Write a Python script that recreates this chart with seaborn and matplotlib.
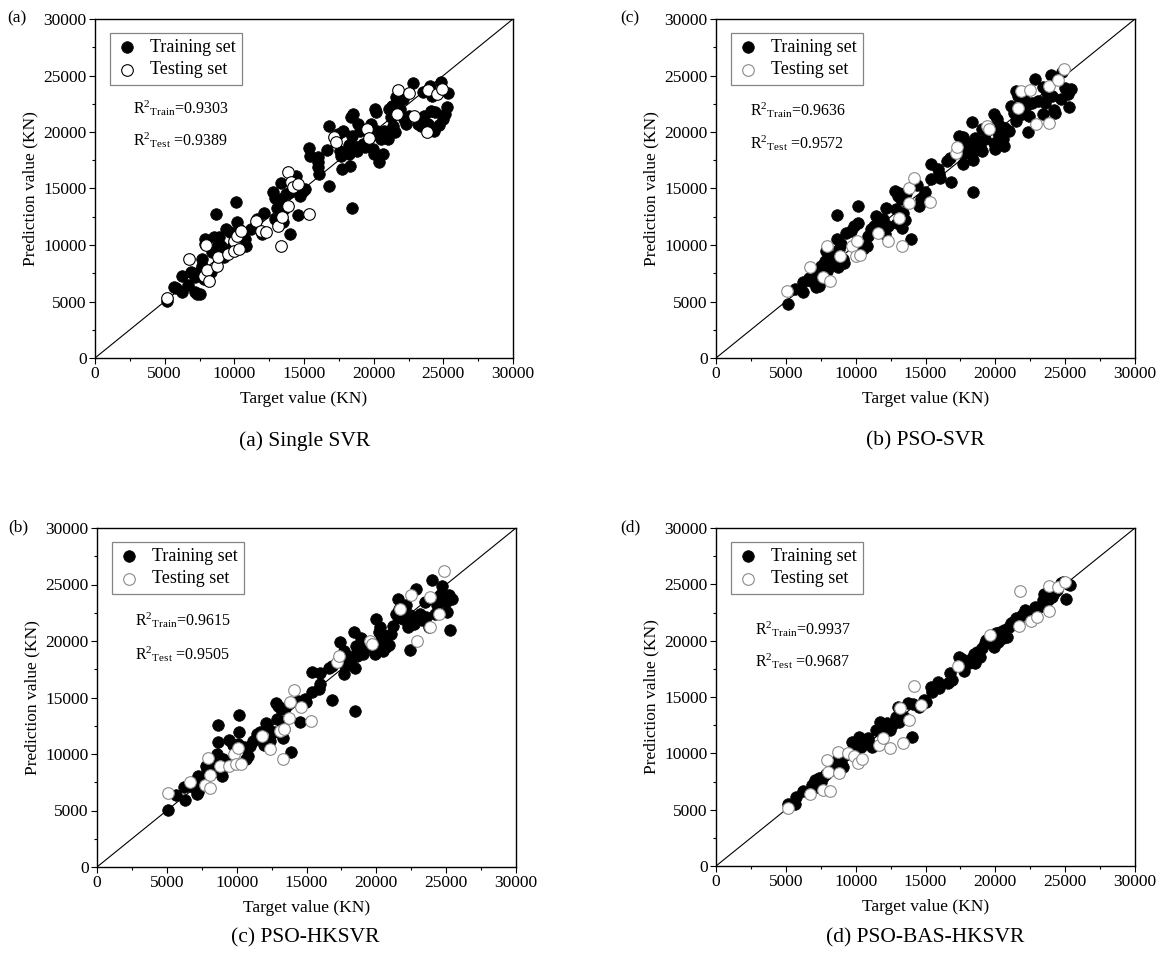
import numpy as np
import pandas as pd
import matplotlib
matplotlib.use("Agg")
import matplotlib.pyplot as plt
from matplotlib.ticker import MultipleLocator
import seaborn as sns

# ---------------- data (target, prediction) ----------------
a_train = [(5195,5074),(5660,6250),(5780,6160),(6270,5810),(6270,7230),(6710,6490),(6880,7580),
 (7200,5810),(7320,5660),(7510,5660),(7200,7140),(7440,7580),(7680,8170),(7680,8760),(7800,6990),
 (7880,10530),(7880,10090),(8290,7580),(8420,9350),(8540,10680),(8660,12740),(8780,9790),(8900,10680),
 (9020,9940),(9150,9350),(9270,8910),(9390,11420),(9680,11120),(9830,9790),(10120,13840),(10170,12010),
 (10320,11420),(10610,10680),(10850,9940),(10800,10530),(11220,11420),(11630,12300),(12120,12830),
 (12020,10970),(12800,14660),(12930,14130),(12950,12300),(13050,13250),(13170,13780),(13340,15460),
 (13370,14070),(13490,12070),(13590,13190),(13730,14510),(13980,10970),(13980,14660),(14460,16140),
 (14590,12650),(14680,14370),(14950,14750),(15050,14960),(15390,18590),(15440,17850),(15980,17760),
 (16030,17320),(16030,16870),(16100,16280),(16630,18440),(16830,20560),(16830,15250),(17440,19820),
 (17560,18350),(17680,17910),(17760,16730),(17800,20120),(18220,18850),(18250,18050),(18290,17020),
 (18340,21300),(18410,13250),(18410,19680),(18540,21590),(18610,18790),(18780,18350),(18900,20710),
 (19020,20120),(19200,18940),(19390,18640),(19830,20710),(19930,18500),(20000,18050),(20070,22040),
 (20190,21740),(20240,20120),(20370,19680),(20410,17320),(20540,19380),(20660,18050),(20730,20120),
 (21050,19380),(21100,22040),(21220,21300),(21340,22330),(21410,20560),(21540,19970),(21590,23070),
 (21710,22630),(21880,22040),(22070,22920),(22200,21150),(22320,20710),(22560,21440),(22850,24340),
 (23170,20710),(23410,20560),(23540,23510),(23590,21440),(23710,20410),(23900,20710),(24020,24100),
 (24100,21890),(24220,23160),(24320,20120),(24390,21740),(24710,20620),(24810,24400),(25000,21150),
 (25120,21590),(25240,22180),(25370,23420)]
a_test = [(5170,5280),(6780,8730),(7800,7290),(8050,7820),(8170,6840),(8000,10000),(8780,8170),
 (8850,8910),(9510,9200),(10000,10380),(10000,9500),(10200,10830),(10370,9650),(10490,11210),
 (11590,12150),(11900,11270),(12270,11120),(13100,11710),(13370,9880),(13410,12450),(13830,16430),
 (13850,13480),(14100,15610),(14200,15100),(14560,15400),(15370,12740),(17150,19530),(17320,19090),
 (19510,20270),(19680,19440),(21760,23750),(21660,21590),(22520,23420),(22930,21440),(23850,19970),
 (23900,23750),(24510,23360),(24900,23810)]

b_train = [(5150,4770),(5680,6150),(6250,6740),(6250,5800),(6670,7120),(6800,6830),(7170,6240),
 (7380,6390),(7300,7420),(7510,8160),(7770,8600),(7850,9480),(7980,7710),(8160,8160),(8290,8740),
 (8420,8450),(8550,9040),(8630,12630),(8690,10510),(8760,8010),(8820,9630),(8950,10070),(9080,8740),
 (9180,8450),(9340,11100),(9650,11250),(9860,11690),(10180,11920),(10200,13450),(10520,9630),
 (10780,9920),(10860,10800),(11120,11390),(11300,11690),(11480,12570),(11820,11920),(11960,12280),
 (12090,10950),(12160,13310),(12350,11690),(12790,14780),(12870,13160),(12950,11980),(13000,14340),
 (13130,14630),(13260,14040),(13340,11540),(13390,12870),(13520,12220),(13580,14630),(13970,10510),
 (14390,15280),(14570,13450),(14700,14040),(14960,14690),(15360,17130),(15410,15810),(15930,16690),
 (15990,16250),(16040,15960),(16530,17430),(16740,17720),(16790,15570),(17370,19640),(17660,19580),
 (17710,17190),(17710,18080),(17920,18610),(17970,19050),(18180,18160),(18360,20870),(18410,14690),
 (18410,17520),(18490,18310),(18540,19490),(18650,19050),(18880,18750),(19070,18310),(19010,20230),
 (19230,19400),(19880,21550),(19930,19050),(20010,18460),(20120,21110),(20200,19930),(20330,20520),
 (20540,19340),(20640,18750),(20720,20370),(20980,20080),(21110,22290),(21320,21640),(21450,23610),
 (21510,20960),(21630,23230),(21900,21550),(22030,22880),(22160,22290),(22340,19990),(22420,21400),
 (22600,22580),(22810,24700),(23070,22730),(23390,21550),(23420,23990),(23540,22580),(23730,23460),
 (23990,25080),(24040,23170),(24200,21990),(24300,21700),(24690,22880),(24770,25290),(24980,23900),
 (25170,23400),(25300,22230),(25430,23820)]
b_test = [(5100,5890),(6720,8010),(7640,7210),(7980,9920),(8160,6830),(8870,9040),(9730,9920),
 (9990,9040),(10070,10360),(10330,9100),(11620,11100),(12350,10360),(13080,12420),(13340,9920),
 (13790,15070),(13790,13750),(14150,15960),(15300,13810),(17190,18110),(17260,18660),(19410,20520),
 (19540,20230),(21630,22140),(21840,23610),(22500,23700),(22940,20670),(23860,20810),(23810,24110),
 (24460,24640),(24900,25580)]

c_train = [(5110,5050),(5660,6380),(6270,5940),(6200,7120),(6890,7120),(7130,6440),(7200,6650),
 (7380,7540),(7250,8070),(7620,7920),(7800,8960),(7870,8660),(8290,8370),(8430,9250),(8560,9990),
 (8630,11030),(8660,12560),(8730,9610),(8850,8510),(8930,8070),(9020,9550),(9170,9250),(9420,11260),
 (9710,10790),(10130,10880),(10200,11970),(10200,13450),(10500,10580),(10700,9550),(10820,9840),
 (10940,10730),(11190,11170),(11480,11760),(11680,11910),(11930,10790),(12120,12740),(12170,12500),
 (12420,11170),(12660,11910),(12790,14510),(12910,13090),(12960,14280),(13030,11910),(13160,13980),
 (13280,12860),(13350,11380),(13400,12210),(13480,14040),(13890,10140),(14390,14720),(14510,12860),
 (14880,14870),(14990,14570),(15370,17290),(15420,15520),(15860,15760),(15980,16200),(15980,17200),
 (16600,17590),(16790,17820),(16790,14750),(17390,19950),(17710,17090),(17710,19150),(17780,17820),
 (18120,18270),(18320,18710),(18400,20840),(18450,13780),(18450,17590),(18520,19600),(18610,18710),
 (18810,19150),(18930,20250),(19060,18860),(19180,19600),(19350,19450),(19920,18860),(19990,21960),
 (20090,19600),(20160,20780),(20240,21220),(20340,20190),(20480,19150),(20530,20490),(20660,19450),
 (20900,19660),(21020,20630),(21200,21370),(21390,22410),(21520,22110),(21520,23740),(21640,22850),
 (21890,21960),(22130,23150),(22300,21220),(22380,19210),(22420,22260),(22670,21520),(22820,24620),
 (23120,22410),(23290,21820),(23480,23440),(23560,22110),(23780,21220),(24020,25360),(24050,23740),
 (24220,22410),(24340,23150),(24590,24030),(24710,24860),(24960,23440),(25080,22560),(25210,24030),
 (25280,20930),(25400,23740)]
c_test = [(5110,6530),(6690,7540),(7700,7270),(7940,9610),(8070,8160),(8110,6950),(8780,8960),
 (9470,8960),(9840,9990),(9960,9100),(10130,10490),(10330,9100),(11800,11560),(12370,10430),
 (13110,12000),(13330,9550),(13400,12240),(13770,13180),(13820,14630),(14140,15700),(14630,14130),
 (15300,12950),(17160,18120),(17330,18710),(19550,20040),(19670,19750),(21690,22850),(22500,24030),
 (22940,20040),(23850,21220),(23850,23890),(24470,22410),(24840,26160)]

d_train = [(5150,5480),(5680,5480),(5730,6140),(6250,6670),(6850,7170),(7120,7620),(7250,7020),
 (7380,7770),(7510,7470),(7690,7910),(7900,8210),(8240,8510),(8350,8800),(8500,9100),(8690,9400),
 (8950,9250),(9080,8800),(9210,9840),(9730,11030),(9860,10430),(10070,10730),(10250,11410),
 (10390,10520),(10700,11030),(10860,11320),(10990,10880),(11170,10580),(11480,12060),(11770,12800),
 (12090,12210),(12220,12660),(12430,12060),(12610,12510),(12870,13250),(13050,14140),(13130,12800),
 (13470,13250),(13730,14440),(14050,11470),(14100,14380),(14570,14140),(14880,14730),(15040,14580),
 (15410,15920),(15490,15470),(15930,16360),(15990,15770),(16610,16270),(16740,17100),(16930,16510),
 (17400,18580),(17580,18350),(17760,17340),(17920,18140),(18100,17990),(18280,18350),(18440,18820),
 (18550,18050),(18700,19020),(18880,18580),(19070,19330),(19230,19770),(19330,20070),(19750,20210),
 (19930,19470),(20060,20660),(20200,19920),(20330,20800),(20540,20210),(20640,20950),(20850,20360),
 (20980,21250),(21110,21550),(21240,21700),(21510,21990),(21630,21610),(21900,22290),(22100,22730),
 (22290,22500),(22810,22970),(23150,23030),(23390,23620),(23470,24160),(23780,23620),(24040,23920),
 (24200,24220),(24380,24510),(24720,25100),(24820,25250),(25030,23680),(25170,25040),(25350,24960)]
d_test = [(5150,5190),(6720,6430),(7690,6730),(7980,9400),(8030,8360),(8160,6670),(8760,10140),
 (8820,8270),(9470,9990),(9860,9750),(10180,9160),(10440,9540),(11640,10730),(11960,11320),
 (12430,10430),(13210,13990),(13390,10880),(13840,12950),(14180,15980),(14700,14290),(17320,17750),
 (19620,20510),(21710,21310),(21760,24450),(22550,21780),(22990,22140),(23860,22590),(23860,24810),
 (24510,24750),(24980,25250)]

r2_train = ["0.9303", "0.9636", "0.9615", "0.9937"]
r2_test = ["0.9389", "0.9572", "0.9505", "0.9687"]
panel_tags = ["(a)", "(c)", "(b)", "(d)"]
captions = ["(a) Single SVR", "(b) PSO-SVR", "(c) PSO-HKSVR", "(d) PSO-BAS-HKSVR"]
train_sets = [a_train, b_train, c_train, d_train]
test_sets = [a_test, b_test, c_test, d_test]
test_edges = ["black", "#8a8a8a", "#8a8a8a", "#8a8a8a"]

# ---------------- style ----------------
sns.set_style("ticks")
plt.rcParams["font.family"] = ["Liberation Serif", "DejaVu Serif"]
plt.rcParams["mathtext.fontset"] = "custom"
plt.rcParams["mathtext.rm"] = "Liberation Serif"
plt.rcParams["mathtext.it"] = "Liberation Serif:italic"
for key in ["text.color", "axes.labelcolor", "xtick.color", "ytick.color", "axes.edgecolor"]:
    plt.rcParams[key] = "black"

W, H = 1168, 965
fig = plt.figure(figsize=(W / 100, H / 100), dpi=100)

# pixel boxes: left, top, right, bottom
boxes = [(95, 19, 513, 358), (716, 19, 1135, 358), (97, 528, 516, 867), (716, 528, 1135, 866)]
r2_pos = [(0.091, 0.737, 0.643), (0.081, 0.73, 0.635), (0.09, 0.729, 0.628), (0.093, 0.70, 0.607)]
tag_offsets = [88, 96, 89, 96]
caption_pos = [(305, 441), (925, 441), (305, 938), (925, 938)]

for i in range(4):
    l, t, r, b = boxes[i]
    ax = fig.add_axes([l / W, 1 - b / H, (r - l) / W, (b - t) / H])
    ax.plot([0, 30000], [0, 30000], color="black", lw=0.8, zorder=1)
    tr = pd.DataFrame(train_sets[i], columns=["target", "pred"])
    te = pd.DataFrame(test_sets[i], columns=["target", "pred"])
    sns.scatterplot(data=tr, x="target", y="pred", ax=ax, color="black", edgecolor="black",
                    s=70, linewidth=0.5, label="Training set", zorder=3)
    sns.scatterplot(data=te, x="target", y="pred", ax=ax, color="white", edgecolor=test_edges[i],
                    s=70, linewidth=0.8, label="Testing set", zorder=4)
    ax.set_xlim(0, 30000)
    ax.set_ylim(0, 30000)
    ax.xaxis.set_major_locator(MultipleLocator(5000))
    ax.yaxis.set_major_locator(MultipleLocator(5000))
    ax.xaxis.set_minor_locator(MultipleLocator(2500))
    ax.yaxis.set_minor_locator(MultipleLocator(2500))
    ax.tick_params(which="major", direction="out", length=4, width=0.8, labelsize=12.5,
                   top=False, right=False, pad=2, colors="black")
    ax.tick_params(which="minor", direction="out", length=2.5, width=0.8, top=False, right=False)
    for sp in ax.spines.values():
        sp.set_linewidth(1.0)
        sp.set_color("black")
    ax.set_xlabel("Target value (KN)", fontsize=12.5)
    ax.set_ylabel("Prediction value (KN)", fontsize=12.5)
    ax.xaxis.set_label_coords(0.5, -0.098)
    ax.yaxis.set_label_coords(-0.135, 0.5)
    leg = ax.legend(loc="upper left", bbox_to_anchor=(0.035, 0.96), frameon=True, fancybox=False,
                    edgecolor="#666666", fontsize=13, handletextpad=0.7, borderpad=0.35,
                    labelspacing=0.3, borderaxespad=0.0, handlelength=1.2)
    leg.get_frame().set_linewidth(0.9)
    xr, y1, y2 = r2_pos[i]
    ax.text(xr, y1, r"R$^{2}$$_{\rm Train}$=" + r2_train[i], transform=ax.transAxes,
            fontsize=11.5, va="center", ha="left")
    ax.text(xr, y2, r"R$^{2}$$_{\rm Test}$ =" + r2_test[i], transform=ax.transAxes,
            fontsize=11.5, va="center", ha="left")
    fig.text((l - tag_offsets[i]) / W, 1 - (t - 1) / H, panel_tags[i], fontsize=12.5,
             ha="left", va="center")
    cx, cy = caption_pos[i]
    fig.text(cx / W, 1 - cy / H, captions[i], fontsize=15.5, ha="center", va="center")

fig.savefig("out.png", dpi=100, facecolor="white")
